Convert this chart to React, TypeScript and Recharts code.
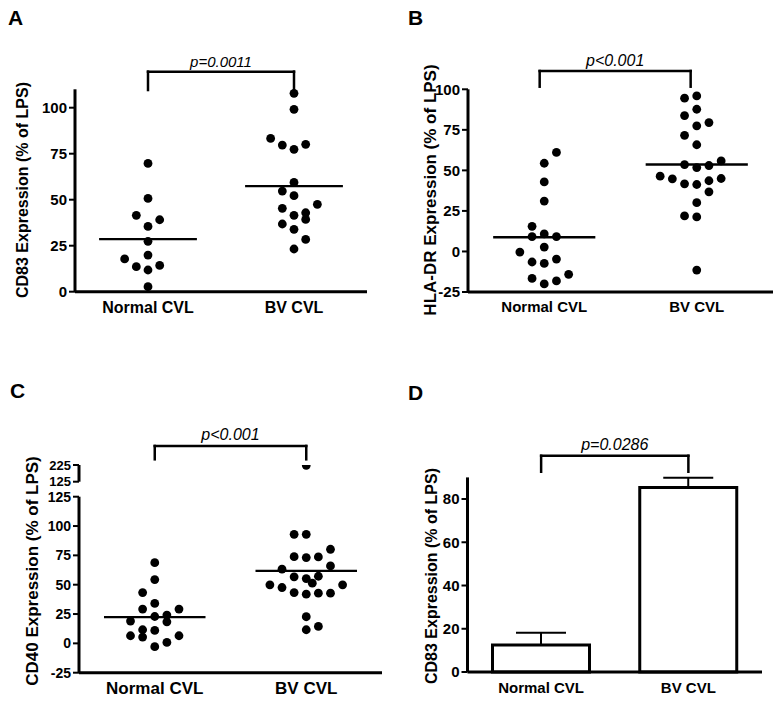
import React from "react";
import {
  Bar,
  BarChart,
  ErrorBar,
  ReferenceLine,
  Scatter,
  ScatterChart,
  XAxis,
  YAxis,
} from "recharts";

const FONT = '"Liberation Sans", Arial, Helvetica, sans-serif';
const INK = "#000";

const GROUPS = ["Normal CVL", "BV CVL"];

// A — CD83, one dot per donor; slots = horizontal dot column
const A_NORMAL = [69.7, 50.7, 41.5, 39.1, 35.5, 27.4, 19.9, 17.8, 14.3, 13.6, 11.8, 2.7];
const A_NORMAL_SLOTS = [0, 0, -1, 1, 0, 0, 0, -2, 1, -1, 0, 0];
const A_BV = [107.8, 99.1, 83.3, 79.7, 80.1, 77.4, 59.4, 54.7, 52.2, 47.5, 45.3, 42.9, 41.5, 39.3, 36.8, 33.9, 28.4, 23.2];
const A_BV_SLOTS = [0, 0, -2, -1, 1, 0, 0, -1, 0, 2, -1, 1, 0, 1, -1, 0, 1, 0];
const A_MEANS = [28.6, 57.4];
const A_TICKS = [0, 25, 50, 75, 100];

// B — HLA-DR
const B_NORMAL = [61.1, 54.4, 42.9, 31.1, 15.5, 10.8, 9.2, 9.2, 2.7, -0.4, -4.7, -6.5, -7.4, -14.1, -16.6, -18.2, -20.0];
const B_NORMAL_SLOTS = [1, 0, 0, 0, -1, 0, -1, 1, 0, -2, 1, -1, 0, 2, -1, 1, 0];
const B_BV = [95.9, 94.5, 87.7, 83.8, 79.5, 77.5, 71.6, 65.8, 55.8, 53.6, 53.0, 51.7, 46.4, 45.0, 44.8, 43.6, 41.7, 41.3, 36.8, 30.1, 21.9, 21.3, -11.5];
const B_BV_SLOTS = [0, -1, 0, -1, 1, 0, -1, 0, 2, -1, 1, 0, -3, 2, -2, 1, -1, 0, 1, 0, -1, 0, 0];
const B_MEANS = [8.8, 53.6];
const B_TICKS = [-25, 0, 25, 50, 75, 100];

// C — CD40 (broken axis: 125–225 segment on top)
const C_NORMAL = [68.8, 54.4, 43.3, 34.0, 29.2, 29.2, 24.1, 22.9, 19.0, 18.4, 11.6, 11.0, 6.5, 6.5, 5.4, 0.8, -2.8];
const C_NORMAL_SLOTS = [0, 0, -1, 0, -1, 2, 1, 0, -2, 1, -1, 0, -2, 2, -1, 1, 0];
const C_BV = [223, 92.9, 92.9, 80.2, 73.9, 73.1, 73.7, 66.0, 63.2, 56.7, 55.2, 57.2, 51.3, 49.9, 47.6, 49.9, 43.3, 41.9, 42.8, 42.8, 22.7, 11.6, 14.4];
const C_BV_SLOTS = [0, -1, 0, 2, -1, 0, 1, 2, -2, -1, 0, 1, 0.5, -3, -2, 3, -1, 0, 1, 2, 0, 0, 1];
const C_MEANS = [22.4, 61.8];
const C_TICKS = [-25, 0, 25, 50, 75, 100, 125];
const C_BREAK_TICKS = [125, 225];

// D — CD83, mean + SEM
const D_MEANS = [12.5, 85.3];
const D_SEM = [5.7, 4.5];
const D_TICKS = [0, 20, 40, 60, 80];

const SLOT = 0.08;
const HALF_MEAN = 0.335;

type Pt = { x: number; y: number };

const toPoints = (group: number, values: number[], slots: number[]): Pt[] =>
  values.map((v, i) => ({ x: group + slots[i] * SLOT, y: v }));

const tickStyle = { fill: INK, fontSize: 15, fontWeight: 700, fontFamily: FONT };
const axisLine = { stroke: INK, strokeWidth: 3 };
const tickLine = { stroke: INK, strokeWidth: 2 };

const Dot = (p: any) => <circle cx={p.cx} cy={p.cy} r={4.4} fill={INK} />;

function yTitle(text: string, x: number, y: number, size: number) {
  return () => (
    <text
      x={x}
      y={y}
      transform={`rotate(-90 ${x} ${y})`}
      textAnchor="middle"
      dominantBaseline="central"
      fontFamily={FONT}
      fontWeight={700}
      fontSize={size}
      fill={INK}
    >
      {text}
    </text>
  );
}

function bracket(
  x0: any,
  x1: any,
  yTop: number,
  yBottom: number,
  text: string,
  size: number,
  offset: number
) {
  const common = {
    stroke: INK,
    strokeWidth: 2.5,
    strokeLinecap: "square" as const,
    ifOverflow: "visible" as const,
  };
  return [
    <ReferenceLine
      key="bh"
      segment={[{ x: x0, y: yTop }, { x: x1, y: yTop }]}
      {...common}
      label={{
        value: text,
        position: "top",
        offset,
        fill: INK,
        fontSize: size,
        fontStyle: "italic",
        fontFamily: FONT,
      }}
    />,
    <ReferenceLine key="bl" segment={[{ x: x0, y: yTop }, { x: x0, y: yBottom }]} {...common} />,
    <ReferenceLine key="br" segment={[{ x: x1, y: yTop }, { x: x1, y: yBottom }]} {...common} />,
  ];
}

function meanLines(means: number[]) {
  return means.map((m, i) => (
    <ReferenceLine
      key={`m${i}`}
      segment={[{ x: i - HALF_MEAN, y: m }, { x: i + HALF_MEAN, y: m }]}
      stroke={INK}
      strokeWidth={2.4}
      ifOverflow="visible"
    />
  ));
}

function groupXAxis(font: number, margin: number) {
  return (
    <XAxis
      type="number"
      dataKey="x"
      domain={[-0.5, 1.5]}
      ticks={[0, 1]}
      interval={0}
      tickFormatter={(v: number) => GROUPS[v]}
      tickLine={false}
      axisLine={axisLine}
      tick={{ ...tickStyle, fontSize: font }}
      tickMargin={margin}
      height={30}
    />
  );
}

const Panel = ({ left, top, children }: { left: number; top: number; children: React.ReactNode }) => (
  <div style={{ position: "absolute", left, top }}>{children}</div>
);

const Letter = ({ left, top, text }: { left: number; top: number; text: string }) => (
  <div
    style={{
      position: "absolute",
      left,
      top,
      fontFamily: FONT,
      fontWeight: 700,
      fontSize: 21,
      lineHeight: "21px",
      color: INK,
    }}
  >
    {text}
  </div>
);

export default function App() {
  const dRows = GROUPS.map((name, i) => ({ name, mean: D_MEANS[i], err: [0, D_SEM[i]] }));
  const cLow = (v: number) => v <= 125;

  return (
    <div
      style={{
        position: "absolute",
        left: 0,
        top: 0,
        width: 782,
        height: 706,
        background: "#fff",
        overflow: "hidden",
      }}
    >
      <Letter left={8} top={7} text="A" />
      <Letter left={408} top={7} text="B" />
      <Letter left={10} top={380} text="C" />
      <Letter left={408} top={382} text="D" />

      {/* A */}
      <Panel left={0} top={30}>
        <ScatterChart width={390} height={300} margin={{ top: 59.3, right: 23, bottom: 8.3, left: 0 }}>
          {groupXAxis(16, 4)}
          <YAxis
            type="number"
            dataKey="y"
            domain={[0, 110]}
            ticks={A_TICKS}
            interval={0}
            width={75}
            axisLine={axisLine}
            tickLine={tickLine}
            tickSize={6}
            tickMargin={2}
            tick={tickStyle}
            label={yTitle("CD83 Expression (% of LPS)", 22, 160, 16)}
          />
          <Scatter data={toPoints(0, A_NORMAL, A_NORMAL_SLOTS)} shape={Dot} isAnimationActive={false} />
          <Scatter data={toPoints(1, A_BV, A_BV_SLOTS)} shape={Dot} isAnimationActive={false} />
          {meanLines(A_MEANS)}
          {bracket(0, 1, 119.6, 109.6, "p=0.0011", 15, 5)}
        </ScatterChart>
      </Panel>

      {/* B */}
      <Panel left={390} top={30}>
        <ScatterChart width={392} height={300} margin={{ top: 59.3, right: 9, bottom: 8, left: 0 }}>
          {groupXAxis(15, 3)}
          <YAxis
            type="number"
            dataKey="y"
            domain={[-25, 100]}
            ticks={B_TICKS}
            interval={0}
            width={78}
            axisLine={axisLine}
            tickLine={tickLine}
            tickSize={6}
            tickMargin={2}
            tick={tickStyle}
            label={yTitle("HLA-DR Expression (% of LPS)", 40, 160, 17)}
          />
          <Scatter data={toPoints(0, B_NORMAL, B_NORMAL_SLOTS)} shape={Dot} isAnimationActive={false} />
          <Scatter data={toPoints(1, B_BV, B_BV_SLOTS)} shape={Dot} isAnimationActive={false} />
          {meanLines(B_MEANS)}
          {bracket(-0.03, 0.96, 111.3, 101.6, "p<0.001", 16, 5)}
        </ScatterChart>
      </Panel>

      {/* C, lower segment */}
      <Panel left={0} top={440}>
        <ScatterChart width={390} height={266} margin={{ top: 56.7, right: 8, bottom: 3.3, left: 0 }}>
          {groupXAxis(17, 3.5)}
          <YAxis
            type="number"
            dataKey="y"
            domain={[-25, 125]}
            ticks={C_TICKS}
            interval={0}
            width={79}
            axisLine={axisLine}
            tickLine={tickLine}
            tickSize={6}
            tickMargin={2}
            tick={{ ...tickStyle, fontSize: 14 }}
            label={yTitle("CD40 Expression (% of LPS)", 32.5, 131, 17)}
          />
          <Scatter
            data={toPoints(0, C_NORMAL, C_NORMAL_SLOTS).filter((p) => cLow(p.y))}
            shape={Dot}
            isAnimationActive={false}
          />
          <Scatter
            data={toPoints(1, C_BV, C_BV_SLOTS).filter((p) => cLow(p.y))}
            shape={Dot}
            isAnimationActive={false}
          />
          {meanLines(C_MEANS)}
        </ScatterChart>
      </Panel>

      {/* C, upper segment of the broken axis */}
      <Panel left={0} top={400}>
        <ScatterChart width={390} height={90} margin={{ top: 65, right: 8, bottom: 8.3, left: 0 }}>
          <XAxis type="number" dataKey="x" domain={[-0.5, 1.5]} hide />
          <YAxis
            type="number"
            dataKey="y"
            domain={[125, 225]}
            ticks={C_BREAK_TICKS}
            interval={0}
            allowDataOverflow
            width={79}
            axisLine={axisLine}
            tickLine={tickLine}
            tickSize={6}
            tickMargin={2}
            tick={{ ...tickStyle, fontSize: 13 }}
          />
          <Scatter
            data={toPoints(1, C_BV, C_BV_SLOTS).filter((p) => !cLow(p.y))}
            shape={Dot}
            isAnimationActive={false}
          />
          {bracket(0, 1, 339, 259, "p<0.001", 16, 6)}
        </ScatterChart>
      </Panel>

      {/* D */}
      <Panel left={390} top={380}>
        <BarChart
          width={392}
          height={326}
          data={dRows}
          margin={{ top: 97.4, right: 20, bottom: 4, left: 0 }}
          barSize={97}
        >
          <XAxis
            dataKey="name"
            tickLine={false}
            axisLine={axisLine}
            tick={{ ...tickStyle, fontSize: 15 }}
            tickMargin={4.5}
            height={30}
            interval={0}
          />
          <YAxis
            domain={[0, 90]}
            ticks={D_TICKS}
            interval={0}
            width={77.5}
            axisLine={axisLine}
            tickLine={tickLine}
            tickSize={6}
            tickMargin={2}
            tick={tickStyle}
            label={yTitle("CD83 Expression (% of LPS)", 41, 196, 16)}
          />
          <Bar dataKey="mean" fill="#fff" stroke={INK} strokeWidth={3} isAnimationActive={false}>
            <ErrorBar dataKey="err" width={25} stroke={INK} strokeWidth={2} direction="y" />
          </Bar>
          {bracket(GROUPS[0], GROUPS[1], 100, 92.6, "p=0.0286", 16, 6)}
        </BarChart>
      </Panel>
    </div>
  );
}
